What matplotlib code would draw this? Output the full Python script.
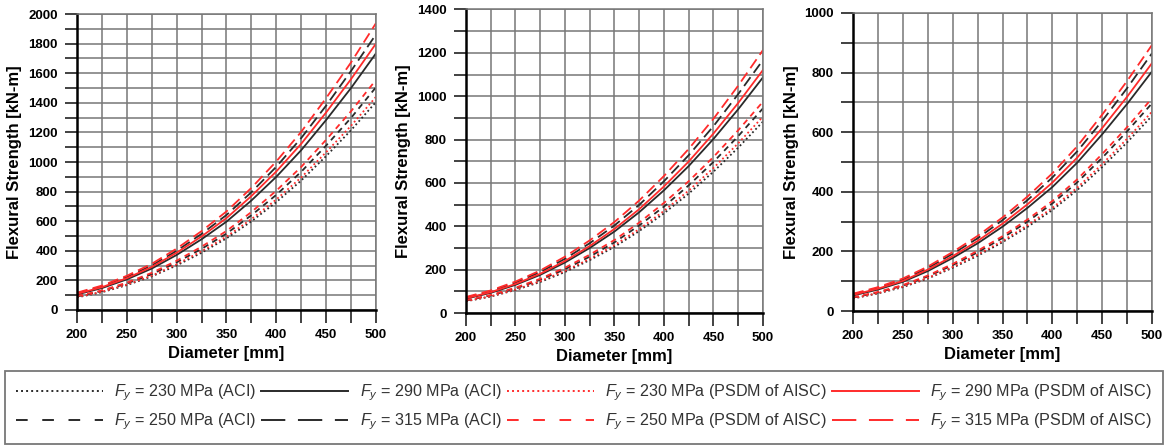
import numpy as np
import matplotlib
matplotlib.use('Agg')
import matplotlib.pyplot as plt
from matplotlib.ticker import MultipleLocator
from matplotlib.lines import Line2D

plt.rcParams['font.family'] = ['Liberation Sans', 'DejaVu Sans']
plt.rcParams['mathtext.fontset'] = 'custom'
plt.rcParams['mathtext.rm'] = 'Liberation Sans'
plt.rcParams['mathtext.it'] = 'Liberation Sans:italic'

# diameter [mm]
diameter = [200, 225, 250, 275, 300, 325, 350, 375, 400, 425, 450, 475, 500]

# panel 1 - flexural strength [kN-m]
p1_aci_230 = [85, 120, 168, 227, 301, 387, 484, 599, 729, 875, 1040, 1215, 1405]
p1_aci_250 = [91, 128, 179, 242, 322, 413, 516, 640, 778, 934, 1111, 1298, 1505]
p1_aci_290 = [105, 148, 207, 280, 372, 478, 597, 740, 900, 1080, 1284, 1500, 1734]
p1_aci_315 = [113, 159, 223, 301, 400, 514, 642, 796, 968, 1162, 1381, 1615, 1862]
p1_psdm_230 = [87, 123, 172, 232, 309, 397, 496, 614, 747, 896, 1066, 1245, 1440]
p1_psdm_250 = [94, 132, 185, 251, 333, 428, 534, 662, 806, 967, 1150, 1343, 1555]
p1_psdm_290 = [109, 154, 215, 291, 387, 497, 621, 770, 936, 1123, 1335, 1560, 1800]
p1_psdm_315 = [117, 165, 231, 312, 415, 533, 666, 825, 1004, 1204, 1432, 1673, 1938]

# panel 2
p2_aci_230 = [54, 76, 106, 143, 189, 244, 305, 378, 460, 551, 652, 763, 883]
p2_aci_250 = [57, 81, 113, 153, 202, 260, 326, 404, 491, 589, 697, 816, 944]
p2_aci_290 = [66, 93, 130, 176, 233, 300, 376, 465, 566, 678, 803, 940, 1087]
p2_aci_315 = [71, 100, 140, 189, 250, 322, 404, 499, 608, 728, 862, 1010, 1167]
p2_psdm_230 = [55, 77, 108, 147, 194, 250, 313, 387, 471, 565, 669, 783, 906]
p2_psdm_250 = [59, 83, 117, 158, 209, 269, 337, 417, 508, 608, 720, 843, 975]
p2_psdm_290 = [68, 96, 134, 181, 240, 309, 388, 479, 584, 699, 828, 969, 1121]
p2_psdm_315 = [74, 104, 145, 196, 260, 335, 420, 519, 632, 757, 896, 1049, 1213]

# panel 3
p3_aci_230 = [42, 59, 80, 109, 145, 185, 231, 282, 339, 406, 483, 566, 655]
p3_aci_250 = [45, 62, 85, 116, 154, 197, 245, 300, 361, 432, 514, 603, 697]
p3_aci_290 = [52, 72, 98, 134, 178, 227, 283, 346, 416, 498, 593, 695, 804]
p3_aci_315 = [56, 77, 105, 144, 192, 244, 305, 372, 448, 536, 638, 748, 865]
p3_psdm_230 = [43, 60, 82, 111, 148, 189, 235, 288, 346, 414, 493, 578, 669]
p3_psdm_250 = [46, 64, 87, 119, 158, 202, 251, 307, 369, 442, 527, 617, 714]
p3_psdm_290 = [54, 75, 101, 139, 184, 235, 293, 358, 431, 515, 614, 719, 832]
p3_psdm_315 = [58, 80, 109, 149, 198, 252, 314, 384, 462, 553, 659, 772, 893]

panels = [
    [p1_aci_230, p1_aci_250, p1_aci_290, p1_aci_315, p1_psdm_230, p1_psdm_250, p1_psdm_290, p1_psdm_315],
    [p2_aci_230, p2_aci_250, p2_aci_290, p2_aci_315, p2_psdm_230, p2_psdm_250, p2_psdm_290, p2_psdm_315],
    [p3_aci_230, p3_aci_250, p3_aci_290, p3_aci_315, p3_psdm_230, p3_psdm_250, p3_psdm_290, p3_psdm_315],
]
y_max = [2000, 1400, 1000]

labels = [r'$F_y$ = 230 MPa (ACI)', r'$F_y$ = 250 MPa (ACI)',
          r'$F_y$ = 290 MPa (ACI)', r'$F_y$ = 315 MPa (ACI)',
          r'$F_y$ = 230 MPa (PSDM of AISC)', r'$F_y$ = 250 MPa (PSDM of AISC)',
          r'$F_y$ = 290 MPa (PSDM of AISC)', r'$F_y$ = 315 MPa (PSDM of AISC)']

black = '#2a2a2a'
red = '#ff2b2b'
colors = [black] * 4 + [red] * 4
styles = [(0, (1, 1.5)), (0, (3.2, 2.6)), '-', (0, (6, 3))] * 2
leg_styles = [(0, (1, 1.6)), (0, (6, 7.5)), '-', (0, (12.5, 6.5))] * 2

boxes = [[0.0659, 0.3034, 0.2557, 0.6651],
         [0.3986, 0.2966, 0.2541, 0.6821],
         [0.7297, 0.3011, 0.2558, 0.6697]]

fig = plt.figure(figsize=(11.69, 4.45), dpi=100)

for k in range(3):
    ax = fig.add_axes(boxes[k])
    for s in range(8):
        ax.plot(diameter, panels[k][s], color=colors[s], linestyle=styles[s],
                linewidth=1.3)
    ax.set_xlim(200, 500)
    ax.set_ylim(0, y_max[k])
    ax.xaxis.set_major_locator(MultipleLocator(50))
    ax.xaxis.set_minor_locator(MultipleLocator(25))
    ax.yaxis.set_major_locator(MultipleLocator(200))
    ax.yaxis.set_minor_locator(MultipleLocator(100))
    ax.grid(True, which='both', color='#777777', linewidth=1.1)
    ax.set_axisbelow(True)
    ax.tick_params(which='both', direction='out', length=9, width=1.3,
                   labelsize=9.5, pad=5, color='#333333')
    for lab in ax.get_xticklabels() + ax.get_yticklabels():
        lab.set_fontweight('bold')
    for sp in ['left', 'bottom']:
        ax.spines[sp].set_linewidth(1.8)
        ax.spines[sp].set_color('black')
    for sp in ['top', 'right']:
        ax.spines[sp].set_linewidth(1.1)
        ax.spines[sp].set_color('#777777')
    ax.set_xlabel('Diameter [mm]', fontsize=12, fontweight='bold', labelpad=3)
    ax.set_ylabel('Flexural Strength [kN-m]', fontsize=12, fontweight='bold', labelpad=4)

handles = [Line2D([], [], color=colors[s], linestyle=leg_styles[s], linewidth=1.4)
           for s in range(8)]
leg = fig.legend(handles, labels, loc='lower left', ncol=4, mode='expand',
                 bbox_to_anchor=(0.004, 0.003, 0.991, 0.16), fontsize=11.6,
                 handlelength=5.4, handletextpad=0.7, columnspacing=0.8,
                 fancybox=False, borderaxespad=0, labelspacing=0.55,
                 borderpad=0.7)
leg.get_frame().set_edgecolor('#555555')
leg.get_frame().set_linewidth(1.3)
for t in leg.get_texts():
    t.set_color('#333333')

fig.savefig('out.png', dpi=100)
